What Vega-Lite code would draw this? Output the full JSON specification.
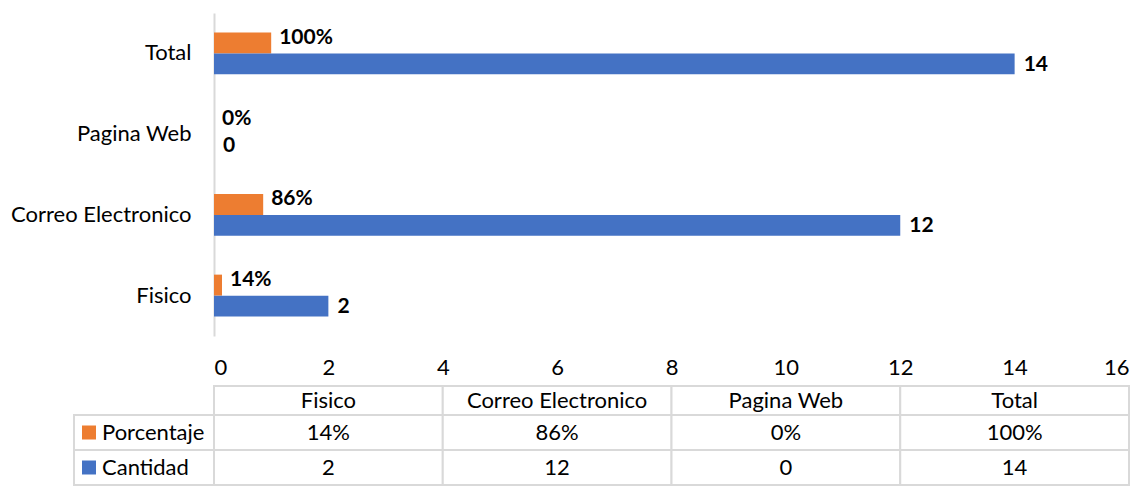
{
  "$schema": "https://vega.github.io/schema/vega-lite/v6.json",
  "padding": {"left": 10, "top": 13, "right": 0, "bottom": 0},
  "autosize": {"type": "pad"},
  "config": {
    "font": "Lato",
    "view": {"stroke": null},
    "text": {"font": "Lato"},
    "axis": {"labelFont": "Lato"}
  },
  "datasets": {
    "canales": [
      {"canal": "Fisico", "serie": "Porcentaje", "valor": 0.14, "texto": "14%"},
      {"canal": "Fisico", "serie": "Cantidad", "valor": 2, "texto": "2"},
      {"canal": "Correo Electronico", "serie": "Porcentaje", "valor": 0.86, "texto": "86%"},
      {"canal": "Correo Electronico", "serie": "Cantidad", "valor": 12, "texto": "12"},
      {"canal": "Pagina Web", "serie": "Porcentaje", "valor": 0, "texto": "0%"},
      {"canal": "Pagina Web", "serie": "Cantidad", "valor": 0, "texto": "0"},
      {"canal": "Total", "serie": "Porcentaje", "valor": 1, "texto": "100%"},
      {"canal": "Total", "serie": "Cantidad", "valor": 14, "texto": "14"}
    ]
  },
  "data": {"name": "canales"},
  "bounds": "flush",
  "spacing": 50,
  "vconcat": [
    {
      "width": 915,
      "height": 323,
      "encoding": {
        "y": {
          "field": "canal", "type": "nominal",
          "sort": ["Total", "Pagina Web", "Correo Electronico", "Fisico"],
          "scale": {"paddingInner": 0.48, "paddingOuter": 0.24},
          "axis": {"title": null, "ticks": false, "domainColor": "#D9D9D9", "domainWidth": 2, "labelPadding": 23, "labelFontSize": 22, "labelLimit": 400, "labelColor": "#000000"}
        },
        "yOffset": {
          "field": "serie", "type": "nominal",
          "sort": ["Porcentaje", "Cantidad"],
          "scale": {"paddingInner": 0, "paddingOuter": 0}
        },
        "x": {
          "field": "valor", "type": "quantitative",
          "scale": {"domain": [0, 16], "nice": false},
          "axis": {"title": null, "values": [0, 2, 4, 6, 8, 10, 12, 14, 16], "domain": false, "ticks": false, "grid": false, "labelPadding": 21, "labelFontSize": 22, "labelColor": "#000000"}
        }
      },
      "layer": [
        {
          "mark": {"type": "bar"},
          "encoding": {
            "color": {"field": "serie", "type": "nominal", "scale": {"domain": ["Porcentaje", "Cantidad"], "range": ["#ED7D31", "#4472C4"]}, "legend": null}
          }
        },
        {
          "transform": [{"filter": "datum.serie === 'Porcentaje'"}],
          "mark": {"type": "text", "align": "left", "dx": 8, "dy": -5, "fontWeight": "bold", "fontSize": 21, "color": "#000000", "baseline": "middle"},
          "encoding": {"text": {"field": "texto", "type": "nominal"}}
        },
        {
          "transform": [{"filter": "datum.serie === 'Cantidad'"}],
          "mark": {"type": "text", "align": "left", "dx": 9, "dy": 1, "fontWeight": "bold", "fontSize": 21, "color": "#000000", "baseline": "middle"},
          "encoding": {"text": {"field": "texto", "type": "nominal"}}
        }
      ]
    },
    {
      "bounds": "flush",
      "spacing": 0,
      "vconcat": [
        {
          "width": 915,
          "height": 29,
          "transform": [{"filter": "datum.serie === 'Cantidad'"}],
          "encoding": {
            "x": {"field": "canal", "type": "nominal", "sort": ["Fisico", "Correo Electronico", "Pagina Web", "Total"], "scale": {"paddingInner": 0, "paddingOuter": 0}, "axis": null}
          },
          "layer": [
            {"mark": {"type": "rect", "fill": "white", "stroke": "#D9D9D9", "strokeWidth": 2}},
            {"mark": {"type": "text", "fontSize": 22, "color": "#000000"}, "encoding": {"text": {"field": "canal", "type": "nominal"}}}
          ]
        },
        {
          "width": 915,
          "height": 70,
          "resolve": {"scale": {"x": "independent"}},
          "encoding": {
            "y": {"field": "serie", "type": "nominal", "sort": ["Porcentaje", "Cantidad"], "scale": {"paddingInner": 0, "paddingOuter": 0}, "axis": null}
          },
          "layer": [
            {
              "mark": {"type": "rect", "fill": "white", "stroke": "#D9D9D9", "strokeWidth": 2},
              "encoding": {"x": {"field": "canal", "type": "nominal", "sort": ["Fisico", "Correo Electronico", "Pagina Web", "Total"], "scale": {"paddingInner": 0, "paddingOuter": 0}, "axis": null}}
            },
            {
              "mark": {"type": "text", "fontSize": 22, "color": "#000000"},
              "encoding": {
                "x": {"field": "canal", "type": "nominal", "sort": ["Fisico", "Correo Electronico", "Pagina Web", "Total"], "scale": {"paddingInner": 0, "paddingOuter": 0}, "axis": null},
                "text": {"field": "texto", "type": "nominal"}
              }
            },
            {
              "transform": [{"filter": "datum.canal === 'Total'"}],
              "mark": {"type": "rect", "fill": "white", "stroke": "#D9D9D9", "strokeWidth": 2},
              "encoding": {"x": {"datum": "leyenda", "type": "nominal", "scale": {"type": "band", "domain": ["leyenda"], "range": [-140, 0], "paddingInner": 0, "paddingOuter": 0}, "axis": null}}
            },
            {
              "transform": [{"filter": "datum.canal === 'Total'"}],
              "mark": {"type": "square", "size": 196, "filled": true, "opacity": 1},
              "encoding": {
                "x": {"datum": "leyenda", "type": "nominal", "bandPosition": 0.107, "scale": {"type": "band", "domain": ["leyenda"], "range": [-140, 0], "paddingInner": 0, "paddingOuter": 0}, "axis": null},
                "color": {"field": "serie", "type": "nominal", "scale": {"domain": ["Porcentaje", "Cantidad"], "range": ["#ED7D31", "#4472C4"]}, "legend": null}
              }
            },
            {
              "transform": [{"filter": "datum.canal === 'Total'"}],
              "mark": {"type": "text", "align": "left", "fontSize": 22, "color": "#000000"},
              "encoding": {
                "x": {"datum": "leyenda", "type": "nominal", "bandPosition": 0.2, "scale": {"type": "band", "domain": ["leyenda"], "range": [-140, 0], "paddingInner": 0, "paddingOuter": 0}, "axis": null},
                "text": {"field": "serie", "type": "nominal"}
              }
            }
          ]
        }
      ]
    }
  ]
}
